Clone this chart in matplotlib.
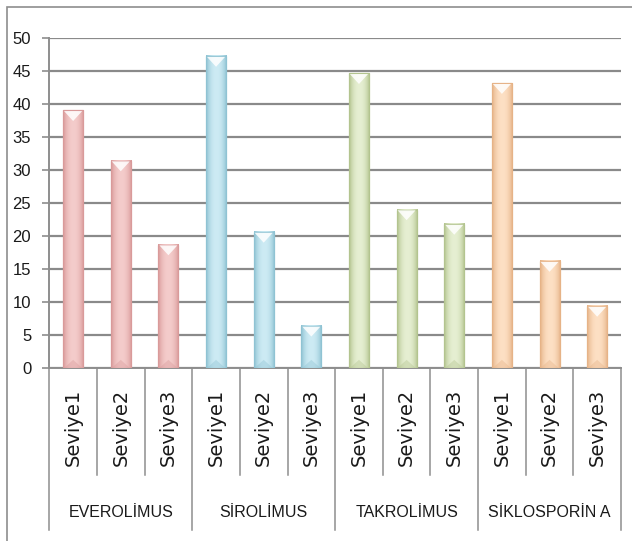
import matplotlib
matplotlib.use("Agg")
import matplotlib.pyplot as plt
import matplotlib.patches as patches
import matplotlib.transforms as mtransforms
from matplotlib import font_manager
from matplotlib.colors import to_rgb
import numpy as np

# ── Data ──────────────────────────────────────────────────────────────────────
GROUPS = ["EVEROLİMUS", "SİROLİMUS", "TAKROLİMUS", "SİKLOSPORİN A"]
LEVELS = ["Seviye1", "Seviye2", "Seviye3"]
EVEROLIMUS = [39.0, 31.4, 18.7]
SIROLIMUS = [47.2, 20.6, 6.4]
TAKROLIMUS = [44.6, 24.0, 21.8]
SIKLOSPORIN = [43.1, 16.2, 9.4]
Y_TICKS = [0, 5, 10, 15, 20, 25, 30, 35, 40, 45, 50]

# ── Style ─────────────────────────────────────────────────────────────────────
# (edge colour, centre colour) per group
BAR_COLORS = [("#d99a9a", "#f4cccb"),
              ("#8fc3d3", "#cdebf4"),
              ("#b3c48f", "#e6efd2"),
              ("#e6b387", "#fde0c4")]
GRID_COLOR = "#8a8a8a"
LINE_COLOR = "#8e8e8e"
BAR_W = 0.42


def _has_font(name):
    try:
        font_manager.findfont(name, fallback_to_default=False)
        return True
    except Exception:
        return False


# narrow, Calibri-like face for the value axis and group names
if _has_font("Liberation Sans Narrow"):
    NARROW, TICK_FS, GROUP_FS = ["Liberation Sans Narrow", "DejaVu Sans"], 13, 13
else:
    NARROW, TICK_FS, GROUP_FS = ["Liberation Sans", "DejaVu Sans"], 12, 11.5

W, H, DPI = 632, 541, 100
fig = plt.figure(figsize=(W / DPI, H / DPI), dpi=DPI)
fig.patch.set_facecolor("white")

ax_l, ax_r, ax_t, ax_b = 49.3, 621.0, 37.7, 368.3   # pixel positions
ax = fig.add_axes([ax_l / W, 1 - ax_b / H, (ax_r - ax_l) / W, (ax_b - ax_t) / H])
ax_h_px = ax_b - ax_t

# outer chart frame
fig.patches.append(patches.Rectangle((6.5 / W, -0.1), 1.2, 1.1 - 6.5 / H,
                                     transform=fig.transFigure, fill=False,
                                     edgecolor=LINE_COLOR, lw=1.2))

series = [EVEROLIMUS, SIROLIMUS, TAKROLIMUS, SIKLOSPORIN]
n_lv = len(LEVELS)


def gradient_bar(ax, xc, h, edge, centre):
    x0, x1 = xc - BAR_W / 2, xc + BAR_W / 2
    e, c = np.array(to_rgb(edge)), np.array(to_rgb(centre))
    t = np.abs(np.linspace(-1, 1, 40))[:, None] ** 2.2
    row = (c * (1 - t) + e * t)[None, :, :]
    ax.imshow(row, extent=[x0, x1, 0, h], aspect="auto", zorder=3,
              interpolation="bilinear")
    ax.add_patch(patches.Rectangle((x0, 0), BAR_W, h, fill=False,
                                   edgecolor=edge, lw=0.9, zorder=4))
    # bevel: light triangle at top, darker one at bottom
    d = min(1.6, h * 0.4)
    ax.add_patch(patches.Polygon([(x0 + 0.02, h - 0.1), (x1 - 0.02, h - 0.1),
                                  (xc, h - d)], closed=True, facecolor="white",
                                 edgecolor="none", alpha=0.85, zorder=4))
    ax.add_patch(patches.Polygon([(x0 + 0.02, 0.05), (x1 - 0.02, 0.05),
                                  (xc, d * 0.8)], closed=True, facecolor=edge,
                                 edgecolor="none", alpha=0.4, zorder=4))


for g, vals in enumerate(series):
    for i, v in enumerate(vals):
        gradient_bar(ax, g * n_lv + i, v, *BAR_COLORS[g])

n_cat = len(GROUPS) * n_lv
ax.set_xlim(-0.5, n_cat - 0.5)
ax.set_ylim(0, 50)
ax.set_yticks(Y_TICKS)
ax.set_xticks([])
ax.grid(axis="y", color=GRID_COLOR, lw=1.6, zorder=0)
ax.set_axisbelow(True)
for s in ("top", "right"):
    ax.spines[s].set_visible(False)
for s in ("left", "bottom"):
    ax.spines[s].set_color(LINE_COLOR)
    ax.spines[s].set_linewidth(1.4)
ax.tick_params(axis="y", direction="out", length=5, width=1.2, color=LINE_COLOR,
               pad=8)
for lbl in ax.get_yticklabels():
    lbl.set_family(NARROW)
    lbl.set_fontsize(TICK_FS)
    lbl.set_color("#1a1a1a")

# ── Multi-level category axis ────────────────────────────────────────────────
trans = mtransforms.blended_transform_factory(ax.transData, ax.transAxes)
inner_end = -(475 - ax_b) / ax_h_px
group_end = -(530 - ax_b) / ax_h_px
for k in range(n_cat + 1):
    y_end = group_end if k % n_lv == 0 else inner_end
    ax.plot([k - 0.5, k - 0.5], [0, y_end], transform=trans, color=LINE_COLOR,
            lw=1.1, clip_on=False)

lvl_top = -(389 - ax_b) / ax_h_px
grp_mid = -(512.5 - ax_b) / ax_h_px
for g, name in enumerate(GROUPS):
    for i, lv in enumerate(LEVELS):
        ax.text(g * n_lv + i, lvl_top, lv, transform=trans, rotation=90,
                ha="center", va="top", fontsize=14, family="DejaVu Sans",
                color="#1a1a1a")
    ax.text(g * n_lv + (n_lv - 1) / 2, grp_mid, name, transform=trans,
            ha="center", va="center", fontsize=GROUP_FS, family=NARROW,
            color="#1a1a1a")

fig.savefig("out.png", dpi=DPI, facecolor="white")
